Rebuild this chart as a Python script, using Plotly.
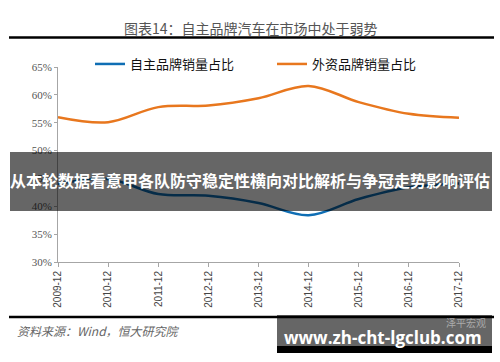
import plotly.graph_objects as go

categories = ["2009-12", "2010-12", "2011-12", "2012-12", "2013-12",
              "2014-12", "2015-12", "2016-12", "2017-12"]
domestic_share = [44.0, 44.9, 42.2, 41.9, 40.6, 38.4, 41.3, 43.4, 44.1]
foreign_share = [56.0, 55.1, 57.8, 58.1, 59.4, 61.6, 58.7, 56.6, 55.9]
y_ticks = [30, 35, 40, 45, 50, 55, 60, 65]
y_tick_text = [f"{v}%" for v in y_ticks]

W, H = 500, 362
L, R, T, B = 58, 459, 67, 262

def px(x):
    return (x - L) / (R - L)

def py(y):
    return (B - y) / (B - T)

fig = go.Figure()
fig.add_trace(go.Scatter(x=categories, y=domestic_share, mode="lines",
                         name="自主品牌销量占比",
                         line=dict(color="#0F6EB4", width=2.5, shape="spline", smoothing=1.0)))
fig.add_trace(go.Scatter(x=categories, y=foreign_share, mode="lines",
                         name="外资品牌销量占比",
                         line=dict(color="#E8771E", width=2.5, shape="spline", smoothing=1.0)))

fig.update_layout(
    width=W, height=H,
    margin=dict(l=L, r=W - R, t=T, b=H - B, autoexpand=False),
    paper_bgcolor="white", plot_bgcolor="white",
    font=dict(family="Noto Sans CJK SC", color="#333"),
    showlegend=True,
    legend=dict(orientation="h", x=px(90), y=py(64), xanchor="left", yanchor="middle",
                font=dict(family="Noto Sans CJK SC", size=13, color="#111"),
                bgcolor="rgba(0,0,0,0)", entrywidth=137, entrywidthmode="pixels",
                itemwidth=30, tracegroupgap=0),
    xaxis=dict(type="category", range=[0, 8], showgrid=False, showline=True,
               linecolor="#A6A6A6", linewidth=1, ticks="outside", ticklen=4,
               tickcolor="#A6A6A6", tickangle=-90,
               tickfont=dict(family="Liberation Sans", size=10, color="#444")),
    yaxis=dict(range=[30, 65], tickvals=y_ticks, ticktext=y_tick_text,
               showgrid=False, showline=True, linecolor="#A6A6A6", linewidth=1,
               ticks="outside", ticklen=3, tickcolor="#A6A6A6", zeroline=False,
               tickfont=dict(family="Liberation Serif", size=11, color="#555")),
)

shapes = [
    dict(type="line", xref="paper", yref="paper", x0=px(9), x1=px(494), y0=py(37.5), y1=py(37.5),
         line=dict(color="black", width=2.5)),
    dict(type="line", xref="paper", yref="paper", x0=px(9), x1=px(494), y0=py(317), y1=py(317),
         line=dict(color="black", width=2.5)),
    dict(type="rect", xref="paper", yref="paper", x0=px(10), x1=px(492), y0=py(211), y1=py(152),
         fillcolor="rgba(0,0,0,0.6)", line=dict(width=0), layer="above"),
    dict(type="rect", xref="paper", yref="paper", x0=px(277), x1=px(492), y0=py(346), y1=py(315),
         fillcolor="rgba(0,0,0,0.6)", line=dict(width=0), layer="above"),
    dict(type="rect", xref="paper", yref="paper", x0=px(277), x1=px(492), y0=py(353), y1=py(346),
         fillcolor="black", line=dict(width=0), layer="above"),
]
fig.update_layout(shapes=shapes)

annotations = [
    dict(text="图表14：自主品牌汽车在市场中处于弱势", xref="paper", yref="paper",
         x=px(251), y=py(28), xanchor="center", yanchor="middle", showarrow=False,
         font=dict(family="Noto Sans CJK SC", size=14, color="#555")),
    dict(text="从本轮数据看意甲各队防守稳定性横向对比解析与争冠走势影响评估", xref="paper", yref="paper",
         x=px(250), y=py(180), xanchor="center", yanchor="middle", showarrow=False,
         font=dict(family="Noto Sans CJK SC", size=16, color="white", weight="bold")),
    dict(text="<i>资料来源：Wind，恒大研究院</i>", xref="paper", yref="paper",
         x=px(15), y=py(330), xanchor="left", yanchor="middle", showarrow=False,
         font=dict(family="Noto Sans CJK SC", size=12, color="#666")),
    dict(text="泽平宏观", xref="paper", yref="paper",
         x=px(488), y=py(322), xanchor="right", yanchor="middle", showarrow=False,
         font=dict(family="Noto Sans CJK SC", size=10, color="rgba(190,190,190,0.8)")),
    dict(text="<b>www.zh-cht-lgclub.com</b>", xref="paper", yref="paper",
         x=px(383), y=py(337), xanchor="center", yanchor="middle", showarrow=False,
         font=dict(family="Open Sans", size=17, color="white")),
]
fig.update_layout(annotations=annotations)

fig.write_html("out.html", config={"displayModeBar": False},
               post_script="document.body.style.margin='0';document.body.style.padding='0';")
